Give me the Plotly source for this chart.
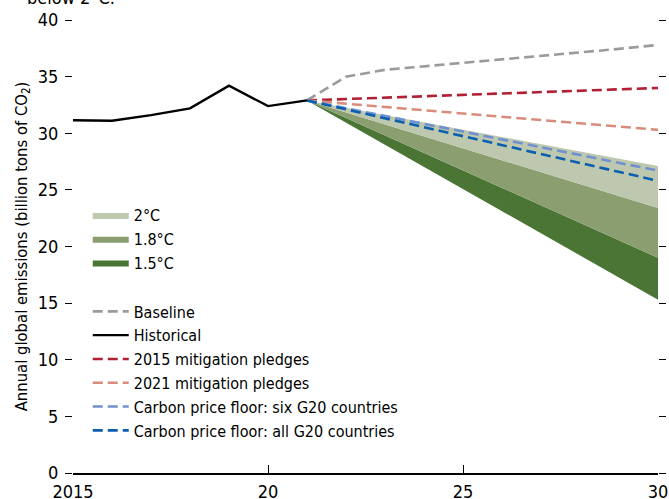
import plotly.graph_objects as go

# ---- data ----
hist_years = [2015, 2016, 2017, 2018, 2019, 2020, 2021]
hist_vals = [31.15, 31.1, 31.6, 32.2, 34.2, 32.4, 32.9]

proj_years = [2021, 2022, 2023, 2024, 2025, 2026, 2027, 2028, 2029, 2030]
baseline = [32.9, 35.0, 35.6, 35.9, 36.2, 36.5, 36.8, 37.1, 37.45, 37.8]

end_years = [2021, 2030]
pledges_2015 = [32.9, 34.0]
pledges_2021 = [32.9, 30.3]
floor_six = [32.9, 26.7]
floor_all = [32.9, 25.8]

band_2c_top = [32.9, 27.1]
band_18_top = [32.9, 23.4]
band_15_top = [32.9, 19.0]
band_15_bottom = [32.9, 15.3]

x_tickvals = [2015, 2020, 2025, 2030]
x_ticktext = ["2015", "20", "25", "30"]

FONT = "DejaVu Sans Condensed, sans-serif"
DASH = "10px,5px"

fig = go.Figure()

# bands (fills)
fig.add_trace(go.Scatter(x=end_years, y=band_15_bottom, mode="lines",
                         line=dict(width=0, color="rgba(0,0,0,0)"),
                         showlegend=False, hoverinfo="skip"))
fig.add_trace(go.Scatter(x=end_years, y=band_15_top, mode="lines", fill="tonexty",
                         fillcolor="#4a7535", line=dict(width=0, color="#4a7535"),
                         name="1.5°C", legendgroup="bands", legendrank=3))
fig.add_trace(go.Scatter(x=end_years, y=band_18_top, mode="lines", fill="tonexty",
                         fillcolor="#8a9e6f", line=dict(width=0, color="#8a9e6f"),
                         name="1.8°C", legendgroup="bands", legendrank=2))
fig.add_trace(go.Scatter(x=end_years, y=band_2c_top, mode="lines", fill="tonexty",
                         fillcolor="#bec8ae", line=dict(width=0, color="#bec8ae"),
                         name="2°C", legendgroup="bands", legendrank=1))

# lines
fig.add_trace(go.Scatter(x=proj_years, y=baseline, mode="lines",
                         line=dict(color="#9b9b9b", width=2.6, dash=DASH),
                         name="Baseline", legendgroup="lines", legendrank=4))
fig.add_trace(go.Scatter(x=end_years, y=pledges_2015, mode="lines",
                         line=dict(color="#b01f33", width=2.6, dash=DASH),
                         name="2015 mitigation pledges", legendgroup="lines", legendrank=6))
fig.add_trace(go.Scatter(x=end_years, y=pledges_2021, mode="lines",
                         line=dict(color="#d88c7c", width=2.6, dash=DASH),
                         name="2021 mitigation pledges", legendgroup="lines", legendrank=7))
fig.add_trace(go.Scatter(x=end_years, y=floor_six, mode="lines",
                         line=dict(color="#7090d0", width=2.6, dash=DASH),
                         name="Carbon price floor: six G20 countries", legendgroup="lines", legendrank=8))
fig.add_trace(go.Scatter(x=end_years, y=floor_all, mode="lines",
                         line=dict(color="#0b5fae", width=2.6, dash=DASH),
                         name="Carbon price floor: all G20 countries", legendgroup="lines", legendrank=9))
fig.add_trace(go.Scatter(x=hist_years, y=hist_vals, mode="lines",
                         line=dict(color="black", width=2.4),
                         name="Historical", legendgroup="lines", legendrank=5))

fig.update_layout(
    width=669, height=499,
    margin=dict(l=73, r=11, t=19.5, b=25.5, autoexpand=False),
    paper_bgcolor="white", plot_bgcolor="white",
    font=dict(family=FONT, size=17, color="black"),
    showlegend=True,
    legend=dict(x=0.0252, y=0.607, xanchor="left", yanchor="top",
                traceorder="grouped", tracegroupgap=25,
                bgcolor="rgba(0,0,0,0)", font=dict(size=16),
                itemwidth=36),
    xaxis=dict(range=[2015, 2030], tickvals=x_tickvals, ticktext=x_ticktext,
               ticks="inside", ticklen=8, tickcolor="black", tickwidth=1,
               showline=True, linecolor="black", linewidth=1.5,
               showgrid=False, zeroline=False, tickfont=dict(size=18),
               ticklabelstandoff=2, automargin=False),
    yaxis=dict(range=[0, 40], dtick=5, ticks="outside", ticklen=7,
               tickcolor="black", tickwidth=1, showline=False, mirror="ticks",
               showgrid=False, zeroline=False, tickfont=dict(size=18),
               ticklabelstandoff=3, automargin=False,
               title=dict(text="Annual global emissions (billion tons of CO<sub>2</sub>)",
                          font=dict(size=16.5), standoff=6)),
    annotations=[dict(text="below 2°C.", xref="paper", yref="paper",
                      x=-0.0825, y=1, xanchor="left", yanchor="bottom",
                      yshift=10, showarrow=False, font=dict(size=18))],
)

fig.write_html("out.html", config={"displayModeBar": False},
               post_script="document.body.style.margin='0px';")
